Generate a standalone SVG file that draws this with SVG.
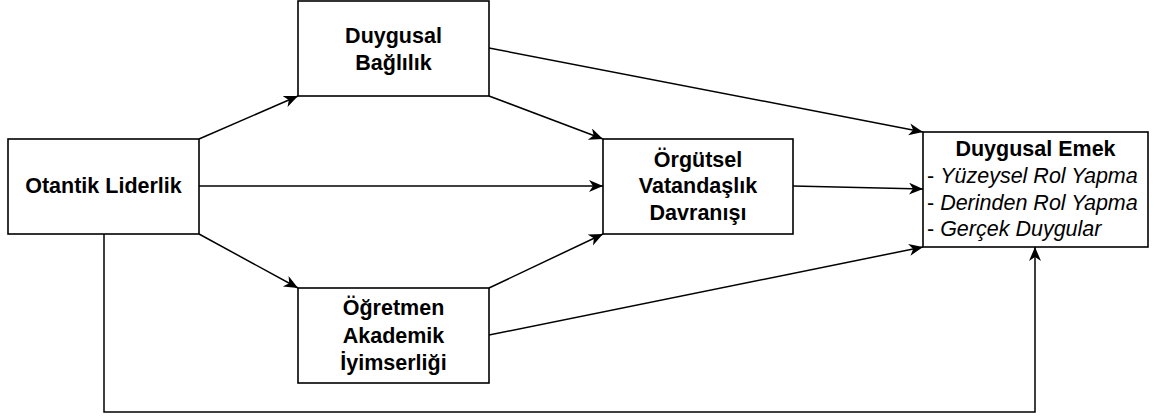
<svg xmlns="http://www.w3.org/2000/svg" width="1156" height="418" viewBox="0 0 1156 418">
  <style>
    .box { fill: #ffffff; stroke: #000000; stroke-width: 1.6; }
    .lbl { font-family: "Liberation Sans", Arial, sans-serif; font-size: 21.5px; font-weight: bold; fill: #000000; text-anchor: middle; }
    .sub { font-family: "Liberation Sans", Arial, sans-serif; font-size: 21.5px; fill: #000000; }
    .sub tspan.it { font-style: italic; }
    .edge { fill: none; stroke: #000000; stroke-width: 1.5; marker-end: url(#arrow); }
  </style>
  <defs>
    <!-- filled arrowhead with a shallow notch at the back -->
    <marker id="arrow" markerUnits="userSpaceOnUse" markerWidth="18" markerHeight="14" refX="14" refY="6" orient="auto">
      <path d="M0,0 L14,6 L0,12 L4,6 Z" fill="#000000"/>
    </marker>
  </defs>
  <rect width="1156" height="418" fill="#ffffff"/>

  <g id="connectors">
    <line class="edge" x1="199" y1="139" x2="298" y2="96"/>
    <line class="edge" x1="489" y1="96" x2="603" y2="139"/>
    <line class="edge" x1="199" y1="186" x2="603" y2="186"/>
    <line class="edge" x1="199" y1="234" x2="298" y2="288"/>
    <line class="edge" x1="489" y1="288" x2="603" y2="234"/>
    <line class="edge" x1="489" y1="48" x2="923" y2="132"/>
    <line class="edge" x1="793" y1="186" x2="923" y2="189"/>
    <line class="edge" x1="489" y1="335" x2="923" y2="247"/>
    <polyline class="edge" points="104,234 104,412 1035,412 1035,247"/>
  </g>

  <g id="otantik-liderlik">
    <rect class="box" x="8" y="139" width="191" height="95"/>
    <text class="lbl" x="103.5" y="193">Otantik Liderlik</text>
  </g>

  <g id="duygusal-baglilik">
    <rect class="box" x="298" y="1" width="191" height="95"/>
    <text class="lbl" x="393.5" y="43">Duygusal</text>
    <text class="lbl" x="393.5" y="70">Bağlılık</text>
  </g>

  <g id="orgutsel-vatandaslik">
    <rect class="box" x="603" y="139" width="190" height="95"/>
    <text class="lbl" x="698" y="167">Örgütsel</text>
    <text class="lbl" x="698" y="193">Vatandaşlık</text>
    <text class="lbl" x="698" y="220">Davranışı</text>
  </g>

  <g id="ogretmen-iyimserligi">
    <rect class="box" x="298" y="288" width="191" height="95"/>
    <text class="lbl" x="393.5" y="315">Öğretmen</text>
    <text class="lbl" x="393.5" y="343">Akademik</text>
    <text class="lbl" x="393.5" y="370">İyimserliği</text>
  </g>

  <g id="duygusal-emek">
    <rect class="box" x="923" y="132" width="225" height="115"/>
    <text class="lbl" x="1035.5" y="156">Duygusal Emek</text>
    <text class="sub" x="927" y="183">- <tspan class="it">Yüzeysel Rol Yapma</tspan></text>
    <text class="sub" x="927" y="210">- <tspan class="it">Derinden Rol Yapma</tspan></text>
    <text class="sub" x="927" y="236">- <tspan class="it">Gerçek Duygular</tspan></text>
  </g>
</svg>
